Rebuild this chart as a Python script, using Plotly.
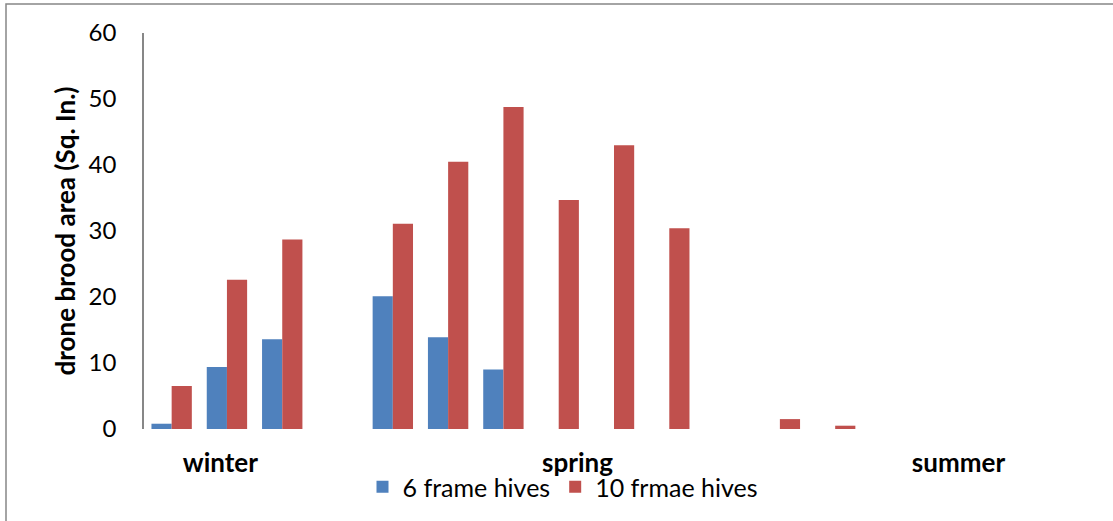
import plotly.graph_objects as go

# Slot index along the x axis (3 winter samples, gap, 6 spring, gap, summer)
slots = list(range(17))
six_frame = [0.8, 9.4, 13.6, None, 20.1, 13.9, 9.0, 0, 0, 0, None, 0, 0, None, None, None, None]
ten_frame = [6.5, 22.6, 28.7, None, 31.1, 40.5, 48.8, 34.7, 43.0, 30.4, None, 1.5, 0.5, None, None, None, None]

season_labels = ["winter", "spring", "summer"]
season_pos = [0.88, 7.34, 14.23]

y_ticks = [0, 10, 20, 30, 40, 50, 60]

W, H = 1113, 521
ML, MR, MT, MB = 144, 29, 33, 91
pw, ph = W - ML - MR, H - MT - MB

FONT = "Lato, 'Open Sans', sans-serif"

fig = go.Figure()
fig.add_trace(go.Bar(x=slots, y=six_frame, name="6 frame hives",
                     marker=dict(color="#4F81BD", line=dict(width=0))))
fig.add_trace(go.Bar(x=slots, y=ten_frame, name="10 frmae hives",
                     marker=dict(color="#C0504D", line=dict(width=0))))

# chart frame (top and left edges visible)
fx0 = (6 - ML) / pw
fy1 = 1 + (MT - 4) / ph
fig.add_shape(type="rect", xref="paper", yref="paper",
              x0=fx0, x1=1 + (MR + 10) / pw, y0=-(MB + 10) / ph, y1=fy1,
              line=dict(color="#878787", width=1.5), fillcolor="rgba(0,0,0,0)",
              layer="below")

fig.update_layout(
    width=W, height=H,
    margin=dict(l=ML, r=MR, t=MT, b=MB),
    paper_bgcolor="white", plot_bgcolor="white",
    barmode="group", bargap=0.27, bargroupgap=0,
    font=dict(family=FONT, color="black", size=25),
    showlegend=True,
    legend=dict(orientation="h", x=(563 - ML) / pw, xanchor="center",
                y=(430 - 487) / ph, yanchor="middle",
                font=dict(size=25, family=FONT), itemwidth=30,
                bgcolor="rgba(0,0,0,0)", traceorder="normal"),
    xaxis=dict(range=[-0.5, 16.5], tickmode="array", tickvals=season_pos,
               ticktext=[f"<b>{s}</b>" for s in season_labels],
               showline=False, showgrid=False, zeroline=False, ticks="",
               tickfont=dict(size=26, family=FONT), ticklabelstandoff=16),
    yaxis=dict(range=[0, 60], tickvals=y_ticks, showgrid=False, zeroline=False,
               showline=True, linecolor="#878787", linewidth=1.5, ticks="",
               tickfont=dict(size=24, family=FONT), ticklabelstandoff=21,
               title=dict(text="<b>drone brood area (Sq. In.)</b>",
                          font=dict(size=26, family=FONT), standoff=6)),
)

fig.write_html("out.html")
